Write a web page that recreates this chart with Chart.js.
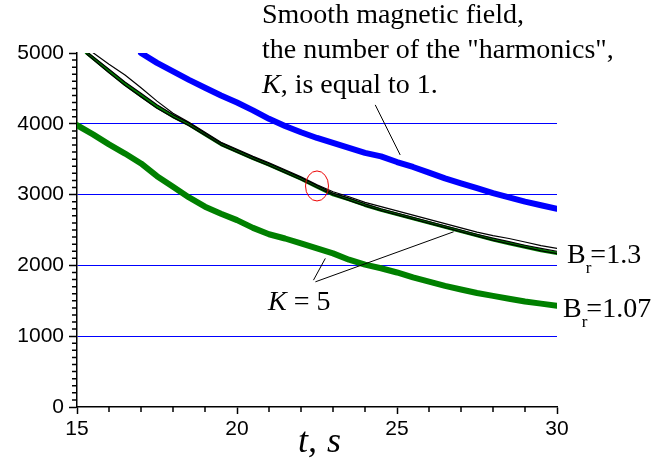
<!DOCTYPE html>
<html>
<head>
<meta charset="utf-8">
<script src="https://cdn.jsdelivr.net/npm/chart.js@4.4.1/dist/chart.umd.min.js"></script>
<style>
  html, body { margin: 0; padding: 0; background: #fff; }
  canvas { display: block; }
</style>
</head>
<body>
<canvas id="decayChart" width="668" height="459"></canvas>
<script>
// time, s
const tBlue = [17, 17.5, 18, 18.5, 19, 19.5, 20, 20.5, 21, 21.5, 22, 22.5, 23, 23.5, 24,
  24.5, 25, 25.5, 26, 26.5, 27, 27.5, 28, 28.5, 29, 29.5, 30];
const tLow = [15, 15.5, 16, 16.5, 17, 17.5, 18, 18.5, 19, 19.5, 20, 20.5, 21, 21.5, 22, 22.5,
  23, 23.5, 24, 24.5, 25, 25.5, 26, 26.5, 27, 27.5, 28, 28.5, 29, 29.5, 30];
const tK5 = [15.3, 16, 16.5, 17, 17.5, 18, 18.5, 19, 19.5, 20, 20.5, 21, 21.5, 22, 22.5, 23,
  23.5, 24, 24.5, 25, 25.5, 26, 26.5, 27, 27.5, 28, 28.5, 29, 29.5, 30];

// smooth field, K = 1
const smoothK1 = [5000, 4860, 4740, 4620, 4510, 4400, 4300, 4190, 4070, 3970, 3880, 3800, 3730,
  3660, 3590, 3540, 3460, 3390, 3310, 3230, 3160, 3090, 3020, 2960, 2900, 2850, 2800];

// K = 5, Br = 1.07
const br107 = [3980, 3850, 3710, 3580, 3440, 3260, 3110, 2960, 2830, 2730, 2640, 2530, 2440,
  2380, 2310, 2240, 2170, 2080, 2010, 1960, 1900, 1830, 1770, 1710, 1660, 1610, 1570, 1530,
  1490, 1460, 1430];

// K = 5, Br = 1.3 (green) and the neighbouring thin runs
const br13 = [5000, 4745, 4560, 4400, 4240, 4105, 3990, 3850, 3710, 3610, 3510, 3420, 3320,
  3220, 3110, 3000, 2930, 2850, 2780, 2720, 2660, 2600, 2540, 2480, 2420, 2360, 2310, 2260,
  2210, 2170];
const runA = [5070, 4840, 4690, 4510, 4320, 4150, 4020, 3880, 3740, 3640, 3540, 3450, 3350,
  3250, 3140, 3040, 2970, 2890, 2830, 2770, 2710, 2650, 2590, 2530, 2470, 2420, 2380, 2330,
  2280, 2240];
const runB = [5020, 4770, 4590, 4430, 4270, 4130, 4010, 3870, 3730, 3630, 3530, 3440, 3340,
  3240, 3130, 3020, 2950, 2870, 2800, 2740, 2680, 2620, 2560, 2500, 2440, 2385, 2335, 2285,
  2240, 2200];
const runC = [4985, 4720, 4540, 4380, 4220, 4090, 3975, 3840, 3700, 3600, 3500, 3410, 3310,
  3210, 3100, 2995, 2920, 2840, 2775, 2715, 2655, 2595, 2535, 2475, 2415, 2355, 2305, 2255,
  2205, 2165];

const xTicks = [15, 20, 25, 30];
const yTicks = [0, 1000, 2000, 3000, 4000, 5000];

// leader lines [t1, v1, t2, v2]
const leaders = [
  [24.32, 4267, 25.1, 3560],
  [22.76, 2099, 22.39, 1792],
  [22.45, 1768, 26.77, 2475]
];

const SERIF = '"Liberation Serif", "Times New Roman", serif';
const SANS = '"Liberation Sans", Arial, sans-serif';

function pairs(ts, vs) {
  return ts.map((t, i) => ({ x: t, y: vs[i] }));
}

// short minor ticks between the labelled ones
const minorTicks = {
  id: 'minorTicks',
  afterDraw(chart) {
    const { ctx, chartArea, scales: { x, y } } = chart;
    ctx.save();
    ctx.strokeStyle = '#000';
    ctx.lineWidth = 1.5;
    ctx.beginPath();
    for (let t = 16; t < 30; t++) {
      if (t % 5 === 0) continue;
      const px = x.getPixelForValue(t);
      ctx.moveTo(px, chartArea.bottom);
      ctx.lineTo(px, chartArea.bottom + 5);
    }
    for (let v = 100; v < 5000; v += 100) {
      if (v % 1000 === 0) continue;
      const py = y.getPixelForValue(v);
      ctx.moveTo(chartArea.left - 5, py);
      ctx.lineTo(chartArea.left, py);
    }
    ctx.stroke();
    ctx.restore();
  }
};

function drawSub(ctx, base, sub, rest, x0, y0) {
  ctx.font = '28px ' + SERIF;
  ctx.fillText(base, x0, y0);
  let xx = x0 + ctx.measureText(base).width;
  ctx.font = '17px ' + SERIF;
  ctx.fillText(sub, xx, y0 + 10);
  xx += ctx.measureText(sub).width - 1;
  ctx.font = '28px ' + SERIF;
  ctx.fillText(rest, xx, y0);
}

const annotate = {
  id: 'annotate',
  afterDraw(chart) {
    const { ctx, chartArea, scales: { x, y } } = chart;
    ctx.save();

    ctx.strokeStyle = '#000';
    ctx.lineWidth = 1;
    leaders.forEach(([t1, v1, t2, v2]) => {
      ctx.beginPath();
      ctx.moveTo(x.getPixelForValue(t1), y.getPixelForValue(v1));
      ctx.lineTo(x.getPixelForValue(t2), y.getPixelForValue(v2));
      ctx.stroke();
    });

    // red ring around the crossing of the K = 5 runs
    ctx.strokeStyle = 'rgb(235,0,0)';
    ctx.beginPath();
    ctx.ellipse(x.getPixelForValue(22.5), y.getPixelForValue(3122), 11.5, 15, 0, 0, Math.PI * 2);
    ctx.stroke();

    ctx.fillStyle = '#000';
    ctx.textAlign = 'left';
    ctx.textBaseline = 'alphabetic';

    ctx.font = '28px ' + SERIF;
    ctx.fillText('Smooth magnetic field,', 262, 23);
    ctx.fillText('the number of the "harmonics",', 262, 58);
    ctx.font = 'italic 28px ' + SERIF;
    ctx.fillText('K', 262, 93);
    let w = ctx.measureText('K').width;
    ctx.font = '28px ' + SERIF;
    ctx.fillText(', is equal to 1.', 262 + w, 93);

    ctx.font = 'italic 28px ' + SERIF;
    ctx.fillText('K', 268, 310);
    w = ctx.measureText('K').width;
    ctx.font = '28px ' + SERIF;
    ctx.fillText(' = 5', 268 + w, 310);

    drawSub(ctx, 'B', 'r', '=1.3', 567, 263);
    drawSub(ctx, 'B', 'r', '=1.07', 563, 317);

    // axis title
    ctx.font = 'italic 36px ' + SERIF;
    const cx = (chartArea.left + chartArea.right) / 2;
    ctx.fillText('t,', cx - 19, 452);
    ctx.fillText('s', cx + 10, 452);

    ctx.restore();
  }
};

const ctx = document.getElementById('decayChart').getContext('2d');

new Chart(ctx, {
  type: 'line',
  data: {
    datasets: [
      { data: pairs(tBlue, smoothK1), borderColor: 'rgb(0,0,255)', borderWidth: 6, order: 1 },
      { data: pairs(tLow, br107), borderColor: 'rgb(0,128,0)', borderWidth: 6, order: 2 },
      { data: pairs(tK5, runA), borderColor: '#000', borderWidth: 1.2, order: 3 },
      { data: pairs(tK5, runB), borderColor: '#000', borderWidth: 1.2, order: 4 },
      { data: pairs(tK5, runC), borderColor: '#000', borderWidth: 1.3, order: 5 },
      { data: pairs(tK5, br13), borderColor: 'rgb(0,128,0)', borderWidth: 3.5, order: 6 }
    ]
  },
  options: {
    responsive: false,
    animation: false,
    devicePixelRatio: 1,
    layout: { padding: { left: 0, right: 111, top: 53, bottom: 0 } },
    elements: {
      point: { radius: 0 },
      line: { tension: 0, borderCapStyle: 'round', borderJoinStyle: 'round' }
    },
    plugins: {
      legend: { display: false },
      tooltip: { enabled: false }
    },
    scales: {
      x: {
        type: 'linear',
        min: 15,
        max: 30,
        afterBuildTicks(scale) { scale.ticks = xTicks.map(v => ({ value: v })); },
        afterFit(scale) { scale.height = 52; },
        ticks: {
          color: '#000',
          font: { family: SANS, size: 21 },
          padding: 3,
          maxRotation: 0,
          callback: v => String(v)
        },
        grid: { color: 'rgba(0,0,0,0)', tickColor: '#000', tickLength: 7, tickWidth: 1.5 },
        border: { color: '#000', width: 1.5 }
      },
      y: {
        min: 0,
        max: 5000,
        afterBuildTicks(scale) { scale.ticks = yTicks.map(v => ({ value: v })); },
        afterFit(scale) { scale.width = 77; },
        ticks: {
          color: '#000',
          font: { family: SANS, size: 21 },
          padding: 5,
          callback: v => String(v)
        },
        grid: {
          color: c => (c.tick && c.tick.value > 0 && c.tick.value < 5000) ? 'rgb(0,0,255)' : 'rgba(0,0,0,0)',
          lineWidth: 1,
          tickColor: '#000',
          tickLength: 8,
          tickWidth: 1.5
        },
        border: { color: '#000', width: 1.5 }
      }
    }
  },
  plugins: [minorTicks, annotate]
});
</script>
</body>
</html>
